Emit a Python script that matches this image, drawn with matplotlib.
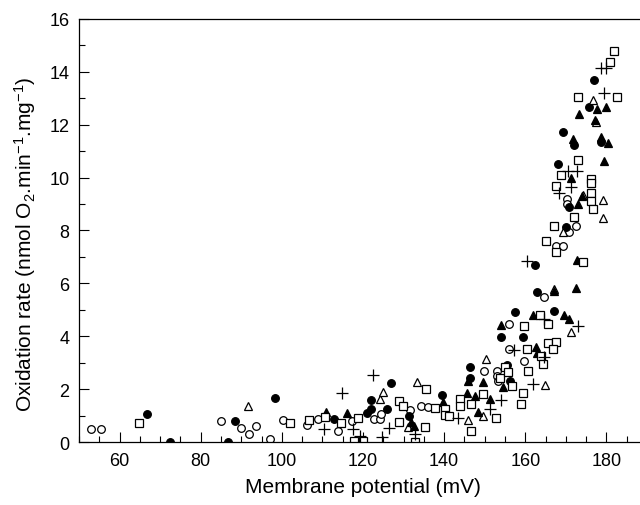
import matplotlib
matplotlib.use("Agg")
import matplotlib.pyplot as plt
from matplotlib.ticker import MultipleLocator

plt.rcParams['font.family'] = ['Liberation Sans', 'DejaVu Sans']
plt.rcParams['mathtext.default'] = 'regular'

# membrane potential (mV) / oxidation rate pairs, one list pair per symbol
open_circle_x = [52.9, 55.4, 84.9, 90.0, 91.8, 93.7, 97.0, 100.3, 106.3, 108.9, 113.8, 117.4,
                 122.8, 124.1, 124.5, 131.5, 134.2, 136.0, 149.8, 153.0, 153.1, 153.2, 156.1,
                 156.1, 159.8, 164.6, 167.5, 169.3, 170.3, 170.3, 170.9, 172.5]
open_circle_y = [0.49, 0.49, 0.8, 0.52, 0.3, 0.6, 0.12, 0.82, 0.65, 0.88, 0.43, 0.8,
                 0.87, 0.87, 1.07, 1.22, 1.38, 1.31, 2.68, 2.68, 2.5, 2.32, 4.46,
                 3.52, 3.07, 5.47, 7.42, 7.4, 9.19, 9.0, 7.94, 8.18]

filled_circle_x = [66.8, 72.5, 86.7, 88.4, 98.3, 112.8, 121.1, 121.9, 122.0, 126.0, 126.9,
                   131.3, 139.4, 146.3, 146.3, 154.0, 155.5, 156.3, 157.4, 159.4, 162.4,
                   162.9, 167.2, 168.1, 169.2, 170.1, 170.9, 172.0, 177.0, 175.8, 178.6]
filled_circle_y = [1.06, 0.0, 0.0, 0.79, 1.66, 0.86, 1.08, 1.25, 1.58, 1.23, 2.22,
                   0.98, 1.77, 2.82, 2.43, 3.96, 2.93, 2.32, 4.93, 3.96, 6.68,
                   5.67, 4.97, 10.5, 11.74, 8.12, 8.9, 11.25, 13.68, 12.66, 11.35]

open_tri_x = [91.7, 124.3, 125.0, 131.1, 133.2, 146.0, 149.6, 150.2, 164.9, 167.0, 171.3,
              169.2, 176.6, 177.4, 179.1, 179.1, 174.2]
open_tri_y = [1.36, 1.63, 1.88, 0.57, 2.26, 0.85, 0.98, 3.15, 2.16, 5.8, 4.17,
              7.95, 12.93, 12.09, 9.17, 8.46, 9.35]

filled_tri_x = [110.8, 116.0, 131.9, 132.5, 139.7, 145.7, 145.9, 147.5, 148.3, 149.5, 151.4,
                154.0, 154.4, 161.9, 162.7, 162.8, 167.0, 169.5, 170.9, 172.5, 172.7, 171.2,
                173.3, 172.9, 173.9, 177.2, 177.7, 180.0, 178.7, 180.5, 179.4, 171.7]
filled_tri_y = [1.15, 1.11, 0.76, 0.62, 1.5, 1.87, 2.32, 1.75, 1.12, 2.28, 1.63,
                4.42, 2.08, 4.8, 3.58, 3.35, 5.72, 4.8, 4.65, 5.81, 6.9, 10.0,
                12.42, 9.0, 9.3, 12.17, 12.6, 12.66, 11.55, 11.3, 10.64, 11.45]

square_x = [64.8, 101.9, 106.7, 110.7, 114.7, 117.9, 120.1, 118.7, 128.8, 128.8, 129.8,
            132.9, 135.2, 135.6, 137.8, 140.2, 140.2, 141.1, 143.8, 143.8, 146.7, 146.6,
            149.7, 152.7, 153.8, 154.9, 155.7, 156.7, 159.4, 159.0, 159.8, 160.5, 160.6,
            163.9, 164.3, 163.7, 165.5, 167.6, 166.8, 165.7, 165.1, 167.6, 167.0, 168.8,
            167.6, 171.9, 173.1, 174.2, 176.1, 176.1, 176.1, 176.1, 176.6, 172.9, 182.6,
            181.0, 181.8]
square_y = [0.71, 0.73, 0.84, 0.94, 0.73, 0.03, 0.02, 0.9, 0.76, 1.55, 1.35,
            0.0, 0.55, 1.99, 1.29, 1.25, 1.02, 1.0, 1.63, 1.38, 1.44, 0.43,
            1.82, 0.9, 2.43, 2.82, 2.64, 2.11, 1.85, 1.44, 4.38, 3.5, 2.7,
            3.26, 2.95, 4.8, 3.76, 3.77, 3.53, 4.46, 7.6, 7.17, 8.18, 10.1,
            9.7, 8.5, 10.68, 6.8, 9.95, 9.78, 9.4, 9.13, 8.82, 13.04, 13.04,
            14.38, 14.8]

plus_x = [110.5, 114.8, 117.6, 119.2, 122.4, 124.8, 126.5, 132.9, 143.4, 151.2, 153.9,
          157.2, 160.4, 161.8, 164.7, 164.6, 170.6, 172.8, 171.3, 168.3, 172.9, 178.7,
          180.0, 179.3]
plus_y = [0.5, 1.85, 0.49, 0.21, 2.52, 0.2, 0.52, 0.3, 0.92, 1.25, 1.58,
          3.47, 6.84, 2.19, 3.23, 4.65, 10.26, 10.26, 9.63, 9.4, 4.38, 14.15,
          14.15, 13.2]

fig = plt.figure(figsize=(6.4, 5.06), dpi=100)
# axes runs a little past the right edge, as in the cropped original
ax = fig.add_axes([0.1234, 0.1245, 0.8875, 0.836])

kw = dict(linestyle='none', markeredgecolor='black', markeredgewidth=0.9)
ax.plot(open_circle_x, open_circle_y, marker='o', markersize=5.5, markerfacecolor='white', **kw)
ax.plot(filled_circle_x, filled_circle_y, marker='o', markersize=5.5, markerfacecolor='black', **kw)
ax.plot(open_tri_x, open_tri_y, marker='^', markersize=6, markerfacecolor='white', **kw)
ax.plot(filled_tri_x, filled_tri_y, marker='^', markersize=6, markerfacecolor='black', **kw)
ax.plot(square_x, square_y, marker='s', markersize=5.5, markerfacecolor='white', **kw)
ax.plot(plus_x, plus_y, marker='+', markersize=9, color='black', linestyle='none',
        markeredgewidth=0.9)

ax.set_xlim(50, 190)
ax.set_ylim(0, 16)
ax.xaxis.set_major_locator(MultipleLocator(20))
ax.xaxis.set_minor_locator(MultipleLocator(5))
ax.yaxis.set_major_locator(MultipleLocator(2))
ax.yaxis.set_minor_locator(MultipleLocator(1))
ax.tick_params(which='both', direction='in', top=False, right=False, labelsize=13, width=0.8)
ax.tick_params(which='major', length=7, pad=7)
ax.tick_params(which='minor', length=4)
for s in ax.spines.values():
    s.set_linewidth(0.9)

ax.set_xlabel('Membrane potential (mV)', fontsize=15)
ax.set_ylabel('Oxidation rate (nmol O$_2$.min$^{-1}$.mg$^{-1}$)', fontsize=15)
ax.xaxis.set_label_coords(0.5, -0.083)
ax.yaxis.set_label_coords(-0.072, 0.47)

fig.savefig('out.png', dpi=100)
